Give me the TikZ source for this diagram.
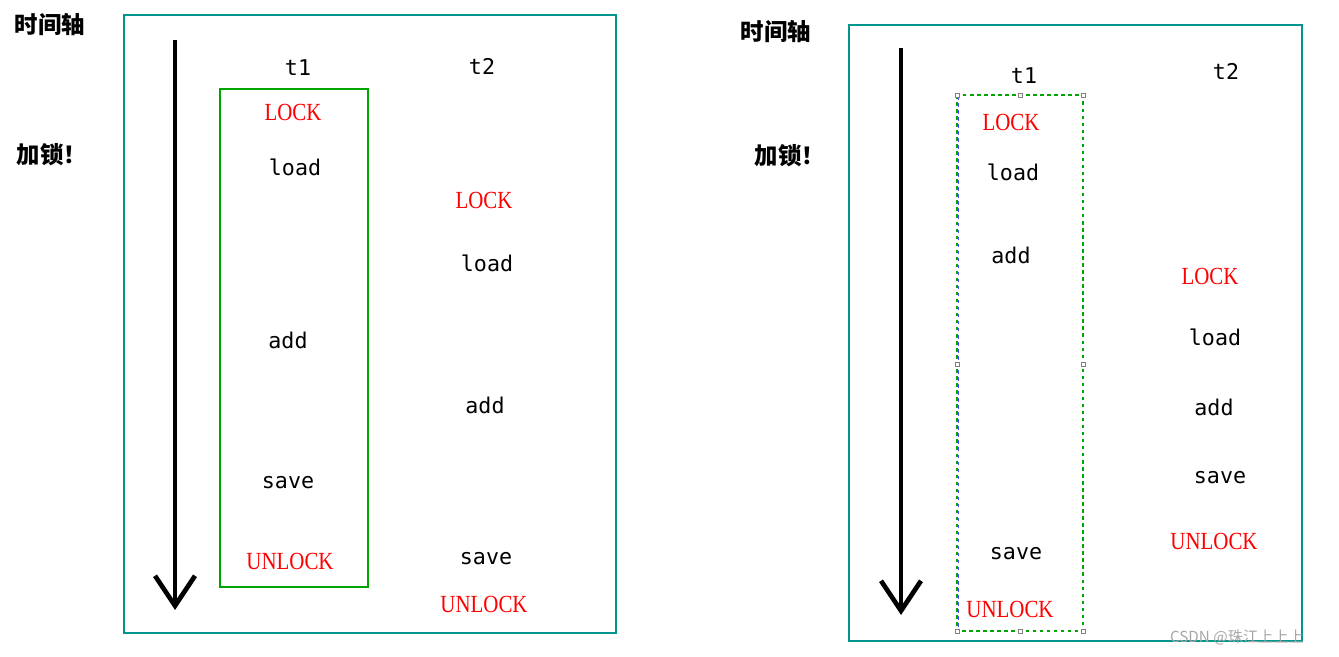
\documentclass[tikz,border=0pt]{standalone}
\usepackage{fontspec}
\setmainfont{Liberation Serif}
\newfontfamily\cjk{Noto Sans CJK SC}
\newfontfamily\opfont{DejaVu Sans Mono}
\definecolor{framecol}{RGB}{0,150,140}
\usetikzlibrary{arrows.meta}
\begin{document}
\begin{tikzpicture}[x=0.03cm,y=-0.03cm,
        frame/.style={draw=framecol,line width=2.4pt},
        block/.style={draw=green!65!black,line width=2pt},
        op/.style={font=\opfont\fontsize{18.5}{22}\selectfont},
        lk/.style={text=red,font=\fontsize{21}{24}\selectfont,xscale=0.85},
        cn/.style={font=\cjk\bfseries\fontsize{20}{24}\selectfont},
        timearr/.style={line width=4pt,-{Straight Barb[length=0.9cm,width=1.2cm,line width=4pt]}}
        ]
        \useasboundingbox (0,0) rectangle (1339,657);
        % left picture
        \node (axl) [cn] at (50,25) {时间轴};
        \node (lockl) [cn] at (52,155) {加锁！};
        \draw[frame] (124,15) rectangle (616,633);
        \coordinate (la) at (175,40);
        \coordinate (lb) at (175,610);
        \draw[timearr] (la) -- (lb);
        \draw[block] (220,89) rectangle (368,587);
        \node (lt1) [op] at (298,68) {t1};
        \node (lt2) [op] at (482,66) {t2};
        \node (l1) [lk] at (293,112) {LOCK};
        \node (l2) [op] at (295,167) {load};
        \node (l3) [lk] at (484,200) {LOCK};
        \node (l4) [op] at (487,263) {load};
        \node (l5) [op] at (288,340) {add};
        \node (l6) [op] at (485,405) {add};
        \node (l7) [op] at (288,483) {save};
        \node (l8) [lk] at (290,561) {UNLOCK};
        \node (l9) [op] at (486,559) {save};
        \node (l10) [lk] at (484,604) {UNLOCK};
        % right picture
        \node (axr) [cn] at (776,32) {时间轴};
        \node (lockr) [cn] at (790,156) {加锁！};
        \draw[frame] (849,25) rectangle (1302,641);
        \coordinate (ra) at (901,48);
        \coordinate (rb) at (901,615);
        \draw[timearr] (ra) -- (rb);
        \draw[blue!70,dashed,thin] (958,96) -- (958,630);
        \draw[block,dashed,line width=1pt] (957,95) rectangle (1083,631);
        \foreach \x/\y in {957/95,1020/95,1083/95,957/364,1083/364,957/631,1020/631,1083/631}
            \draw[fill=white,draw=gray,thin] (\x-2,\y-2) rectangle (\x+2,\y+2);
        \node (rt1) [op] at (1024,76) {t1};
        \node (rt2) [op] at (1226,71) {t2};
        \node (r1) [lk] at (1011,122) {LOCK};
        \node (r2) [op] at (1013,172) {load};
        \node (r3) [op] at (1011,255) {add};
        \node (r4) [lk] at (1210,276) {LOCK};
        \node (r5) [op] at (1215,337) {load};
        \node (r6) [op] at (1214,407) {add};
        \node (r7) [op] at (1220,478) {save};
        \node (r8) [lk] at (1214,541) {UNLOCK};
        \node (r9) [op] at (1016,554) {save};
        \node (r10) [lk] at (1010,609) {UNLOCK};
        \node (mark) [text=gray!70,font=\cjk\fontsize{13}{15}\selectfont] at (1237,637) {CSDN @珠江上上上};
\end{tikzpicture}
\end{document}
